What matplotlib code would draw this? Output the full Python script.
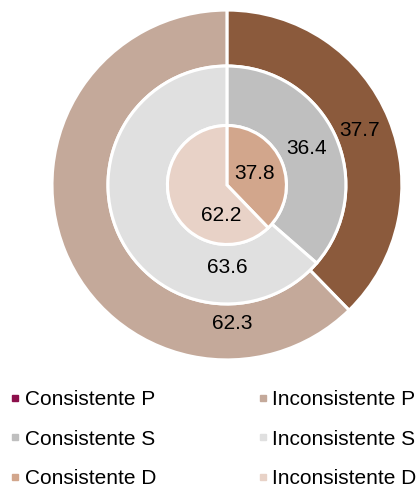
import numpy as np
import matplotlib.pyplot as plt
from matplotlib.lines import Line2D

plt.rcParams['font.family'] = ['Liberation Sans', 'DejaVu Sans']

# Data
outer_vals = [37.7, 62.3]   # P
middle_vals = [36.4, 63.6]  # S
inner_vals = [37.8, 62.2]   # D

outer_colors = ['#8B5A3C', '#C4A99A']
middle_colors = ['#BFBFBF', '#E0E0E0']
inner_colors = ['#D2A68C', '#E8D2C7']

legend_labels = ['Consistente P', 'Consistente S', 'Consistente D',
                 'Inconsistente P', 'Inconsistente S', 'Inconsistente D']
legend_colors = ['#8C0F4B', '#BFBFBF', '#D2A68C',
                 '#C4A99A', '#E0E0E0', '#E8D2C7']

fig = plt.figure(figsize=(4.18, 4.87), dpi=100)
ax = fig.add_axes([0.1244, 0.2608, 0.837, 0.7187])

edge = dict(edgecolor='white', linewidth=2.2)

ax.pie(outer_vals, radius=1.0, colors=outer_colors, startangle=90, counterclock=False,
       wedgeprops=dict(width=0.32, **edge))
ax.pie(middle_vals, radius=0.68, colors=middle_colors, startangle=90, counterclock=False,
       wedgeprops=dict(width=0.34, **edge))
ax.pie(inner_vals, radius=0.34, colors=inner_colors, startangle=90, counterclock=False,
       wedgeprops=dict(**edge))


def add_labels(vals, r_first, r_second, ang_second):
    # first slice label at its mid angle, second slice label near the bottom
    mid = np.deg2rad(90 - vals[0] / 100 * 180)
    ax.text(r_first * np.cos(mid), r_first * np.sin(mid), f'{vals[0]:.1f}',
            ha='center', va='center', fontsize=15)
    a = np.deg2rad(ang_second)
    ax.text(r_second * np.cos(a), r_second * np.sin(a), f'{vals[1]:.1f}',
            ha='center', va='center', fontsize=15)


add_labels(outer_vals, 0.82, 0.79, -88)
add_labels(middle_vals, 0.50, 0.47, -90)
add_labels(inner_vals, 0.17, 0.175, -100)

ax.set_xlim(-1, 1)
ax.set_ylim(-1, 1)
ax.set_aspect('equal')

handles = [Line2D([0], [0], marker='s', linestyle='none', markersize=4,
                  markerfacecolor=c, markeredgecolor=c) for c in legend_colors]
fig.legend(handles, legend_labels, ncol=2, loc='upper left',
           bbox_to_anchor=(0.024, 0.199), frameon=False, fontsize=15,
           handlelength=0.5, handletextpad=0.2, columnspacing=4.87,
           labelspacing=0.98, borderaxespad=0, borderpad=0)

fig.savefig('out.png', dpi=100)
